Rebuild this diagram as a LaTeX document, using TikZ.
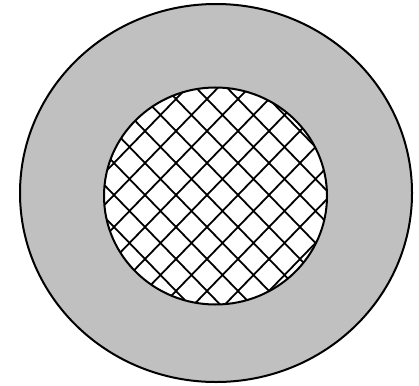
\documentclass[tikz,border=0pt]{standalone}
\definecolor{ringgray}{RGB}{192,192,192}
\begin{document}
\begin{tikzpicture}[x=1pt,y=-1pt,
  rim/.style={draw=black,line width=2pt},
  hatch/.style={draw=black,line width=1.8pt}]
\useasboundingbox (0,0) rectangle (419,385);
% outer ring
\path[rim,fill=ringgray] (216,193) ellipse [x radius=196, y radius=189];
% inner disc
\path[fill=white] (215.5,196) ellipse [x radius=111.5, y radius=108.5];
\begin{scope}
  \clip (215.5,196) ellipse [x radius=111.5, y radius=108.5];
  \foreach \i in {-8,...,8}{
    \draw[hatch] ({207+\i*31-5*31},{195-5*32}) -- ({207+\i*31+5*31},{195+5*32});
    \draw[hatch] ({207+\i*31-5*31},{195+5*32}) -- ({207+\i*31+5*31},{195-5*32});
  }
\end{scope}
\path[rim] (215.5,196) ellipse [x radius=111.5, y radius=108.5];
\end{tikzpicture}
\end{document}
